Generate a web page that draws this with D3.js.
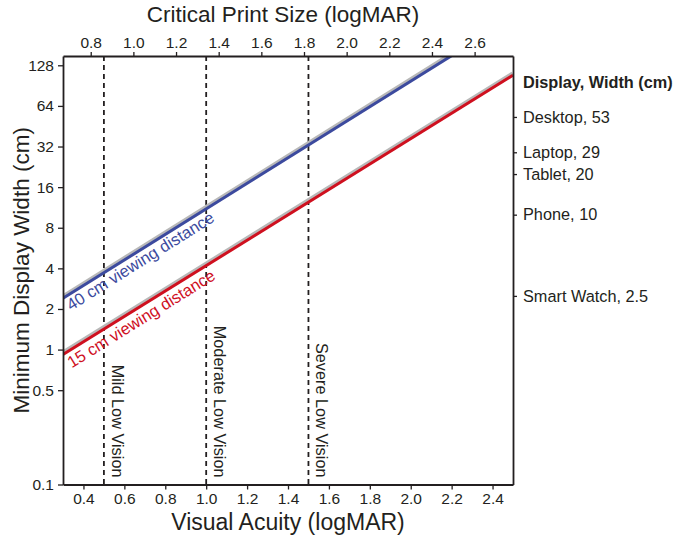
<!DOCTYPE html>
<html>
<head>
<meta charset="utf-8">
<script src="https://cdn.jsdelivr.net/npm/d3@7"></script>
<style>
  html, body { margin: 0; padding: 0; background: #fff; }
  svg { display: block; font-family: "Liberation Sans", Arial, Helvetica, sans-serif; }
</style>
</head>
<body>
<svg id="chart" width="677" height="540"></svg>
<script>
// ---- data ----
const vaDomain = [0.3, 2.5];            // Visual Acuity (bottom axis)
const cpsDomain = [0.67, 2.78];         // Critical Print Size (top axis)
const widthDomain = [0.1, 150];         // display width (log)
const bottomTicks = [0.4, 0.6, 0.8, 1.0, 1.2, 1.4, 1.6, 1.8, 2.0, 2.2, 2.4];
const topTicks = [0.8, 1.0, 1.2, 1.4, 1.6, 1.8, 2.0, 2.2, 2.4, 2.6];
const leftTicks = [0.1, 0.5, 1, 2, 4, 8, 16, 32, 64, 128];
const devices = ["Desktop", "Laptop", "Tablet", "Phone", "Smart Watch"];
const deviceWidths = [53, 29, 20, 10, 2.5];
const visionLevels = ["Mild Low Vision", "Moderate Low Vision", "Severe Low Vision"];
const visionVA = [0.5, 1.0, 1.5];
const distanceLabels = ["40 cm viewing distance", "15 cm viewing distance"];
const lineVA = [0.3, 2.5];
const width40 = [2.4, 290];
const width15 = [0.92, 108];

// ---- layout ----
const L = 63, R = 513, T = 56, B = 484.5;
const svg = d3.select("#chart");
const x = d3.scaleLinear().domain(vaDomain).range([L, R]);
const xTop = d3.scaleLinear().domain(cpsDomain).range([L, R]);
const y = d3.scaleLog().domain(widthDomain).range([B, T]);
const ink = "#231f20";

const defs = svg.append("defs");
defs.append("clipPath").attr("id", "plotclip")
  .append("rect").attr("x", L).attr("y", T).attr("width", R - L).attr("height", B - T);

// vertical dashed lines
const vg = svg.append("g");
visionVA.forEach((v, i) => {
  vg.append("line").attr("x1", x(v)).attr("x2", x(v)).attr("y1", T).attr("y2", B)
    .attr("stroke", ink).attr("stroke-width", 1.8).attr("stroke-dasharray", "5,4");
  vg.append("text")
    .attr("transform", `translate(${x(v) + 8},${B - 7}) rotate(90)`)
    .attr("text-anchor", "end")
    .attr("font-size", 16.3).attr("fill", ink)
    .text(visionLevels[i]);
});

// lines
const series = [
  { vals: width40, color: "#3c4a9e", label: distanceLabels[0], ty: 15 },
  { vals: width15, color: "#cf101f", label: distanceLabels[1], ty: 16.5 }
];
const lg = svg.append("g").attr("clip-path", "url(#plotclip)");
const lineGen = d3.line().x(d => x(d[0])).y(d => y(d[1]));
series.forEach(s => {
  const pts = lineVA.map((v, i) => [v, s.vals[i]]);
  lg.append("path").datum(pts).attr("d", lineGen)
    .attr("fill", "none").attr("stroke", "#b8b8b8").attr("stroke-width", 3.5)
    .attr("transform", "translate(-0.5,-2)");
  lg.append("path").datum(pts).attr("d", lineGen)
    .attr("fill", "none").attr("stroke", s.color).attr("stroke-width", 3);
});
series.forEach(s => {
  const x0 = x(lineVA[0]), y0 = y(s.vals[0]);
  const x1 = x(lineVA[1]), y1 = y(s.vals[1]);
  const ang = Math.atan2(y1 - y0, x1 - x0) * 180 / Math.PI;
  svg.append("text")
    .attr("transform", `translate(${x0},${y0}) rotate(${ang})`)
    .attr("x", 0).attr("y", s.ty)
    .attr("font-size", 16.5).attr("fill", s.color)
    .text(s.label);
});

// axes
const fs = 15.5;
const axB = svg.append("g").attr("transform", `translate(0,${B})`)
  .call(d3.axisBottom(x).tickValues(bottomTicks).tickFormat(d3.format(".1f")).tickSize(5).tickSizeOuter(0));
const axT = svg.append("g").attr("transform", `translate(0,${T})`)
  .call(d3.axisTop(xTop).tickValues(topTicks).tickFormat(d3.format(".1f")).tickSize(4).tickSizeOuter(0));
const axL = svg.append("g").attr("transform", `translate(${L},0)`)
  .call(d3.axisLeft(y).tickValues(leftTicks).tickFormat(d => String(d)).tickSize(5).tickSizeOuter(0));
const axR = svg.append("g").attr("transform", `translate(${R},0)`)
  .call(d3.axisRight(y).tickValues(deviceWidths)
    .tickFormat((d, i) => devices[i] + ", " + d).tickSize(4).tickSizeOuter(0));

[axB, axT, axL, axR].forEach(a => {
  a.select(".domain").attr("stroke", ink).attr("stroke-width", 1.8);
  a.selectAll(".tick line").attr("stroke", ink).attr("stroke-width", 1.3);
  a.selectAll(".tick text").attr("fill", ink).attr("font-size", fs)
    .attr("font-family", "'Liberation Sans', Arial, sans-serif");
});
axB.selectAll(".tick text").attr("y", 8);
axT.selectAll(".tick text").attr("y", -8);
axL.selectAll(".tick text").attr("x", -9);
axR.selectAll(".tick text").attr("x", 10).attr("font-size", 16.3);

// header for right axis
svg.append("text").attr("x", R + 10).attr("y", y(deviceWidths[0]) - 35)
  .attr("dy", "0.35em").attr("font-size", 16.3).attr("font-weight", "bold").attr("fill", ink)
  .text("Display, Width (cm)");

// axis titles
svg.append("text").attr("x", (L + R) / 2).attr("y", 530).attr("text-anchor", "middle")
  .attr("font-size", 23).attr("fill", ink).text("Visual Acuity (logMAR)");
svg.append("text").attr("x", (L + R) / 2 - 5).attr("y", 22).attr("text-anchor", "middle")
  .attr("font-size", 22.5).attr("fill", ink).text("Critical Print Size (logMAR)");
svg.append("text").attr("transform", `translate(28.5,${(T + B) / 2}) rotate(-90)`)
  .attr("text-anchor", "middle").attr("font-size", 22.5).attr("fill", ink)
  .text("Minimum Display Width (cm)");
</script>
</body>
</html>
